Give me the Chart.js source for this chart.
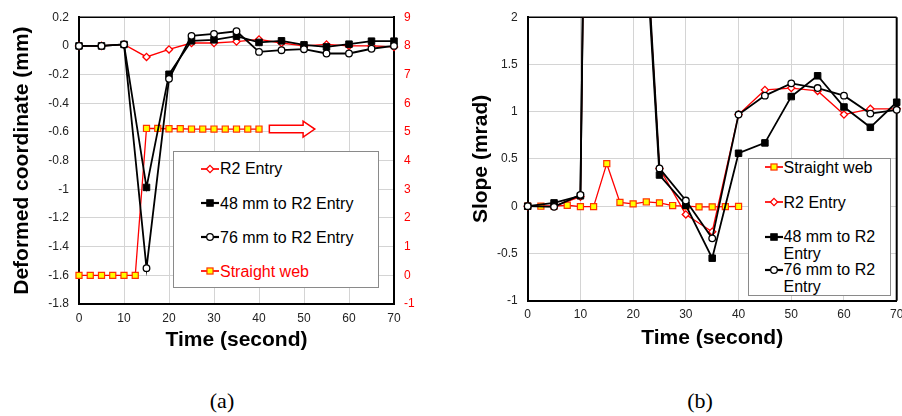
<!DOCTYPE html>
<html><head><meta charset="utf-8">
<script src="https://cdn.jsdelivr.net/npm/chart.js@4.4.1/dist/chart.umd.min.js"></script>
<style>
html,body{margin:0;padding:0;background:#fff;overflow:hidden;width:902px;height:416px;}
#wrap{position:relative;width:902px;height:416px;overflow:hidden;}
canvas{position:absolute;top:0;}
#ca{left:0;}
#cb{left:450px;}
.legend{position:absolute;background:#fff;border:1px solid #8a8a8a;font-family:'Liberation Sans',Arial,sans-serif;font-size:16px;color:#000;box-sizing:border-box;}
.row{position:absolute;white-space:nowrap;line-height:17.3px;}
.sym{position:absolute;}
.lab{position:absolute;font-family:'Liberation Serif','Times New Roman',serif;font-size:22px;line-height:24px;transform:translate(-50%,-50%);}
</style></head>
<body><div id="wrap">
<canvas id="ca" width="450" height="360"></canvas>
<canvas id="cb" width="462" height="360"></canvas>
<div class="legend" id="legA" style="left:173px;top:151px;width:206px;height:137px;"></div>
<div class="legend" id="legB" style="left:748px;top:158px;width:143px;height:138px;"></div>
<div class="lab" style="left:222px;top:401px;">(a)</div>
<div class="lab" style="left:700px;top:401px;">(b)</div>
</div>
<script>
// ---------- data: panel (a) ----------
const timeA = [0,5,10,15,20,25,30,35,40,45,50,55,60,65,70];
const r2EntryA = [0,0,0.01,-0.077,-0.025,0.02,0.02,0.03,0.045,0.02,0.0,0.01,0.0,0.0,-0.007];
const mm48A = [0,0,0.01,-0.987,-0.198,0.035,0.042,0.068,0.024,0.035,0.007,-0.007,0.012,0.033,0.033];
const mm76A = [0,0,0.01,-1.55,-0.23,0.07,0.084,0.102,-0.042,-0.03,-0.023,-0.053,-0.053,-0.02,0];
const webTimeA = [0,2.5,5,7.5,10,12.5,15,17.5,20,22.5,25,27.5,30,32.5,35,37.5,40];
const webA = [0,0,0,0,0,0,5.12,5.12,5.11,5.11,5.1,5.1,5.1,5.1,5.1,5.1,5.1];
// ---------- data: panel (b) ----------
const timeB = [0,5,10,15,20,25,30,35,40,45,50,55,60,65,70];
const r2EntryB = [0,0,0.1,21,5.1,0.4,-0.087,-0.27,0.97,1.23,1.25,1.22,0.97,1.03,1.03];
const mm48B = [0,0.035,0.11,21.5,5.0,0.33,0.01,-0.55,0.56,0.67,1.16,1.38,1.05,0.835,1.10];
const mm76B = [0,-0.007,0.12,22,5.2,0.4,0.06,-0.34,0.97,1.17,1.30,1.25,1.17,0.98,1.02];
const webTimeB = [0,2.5,5,7.5,10,12.5,15,17.5,20,22.5,25,27.5,30,32.5,35,37.5,40];
const webB = [0,0,0,0.01,-0.005,-0.005,0.45,0.04,0.025,0.045,0.035,0.007,0,-0.007,-0.007,-0.005,-0.003];
// ---------- labels ----------
const seriesNames = ['R2 Entry','48 mm to R2 Entry','76 mm to R2 Entry','Straight web'];
const xTitle = 'Time (second)';
const yTitleA = 'Deformed coordinate (mm)';
const yTitleB = 'Slope (mrad)';

const FONT = "'Liberation Sans', Arial, sans-serif";
Chart.defaults.font.family = FONT;
Chart.defaults.color = '#222';

const pts = (xs, ys) => xs.map((x, i) => ({x, y: ys[i]}));

const STY = {
  r2:  {borderColor:'#ff0000', borderWidth:1.3, pointStyle:'rectRot', pointRadius:3.6, pointBackgroundColor:'#fff', pointBorderColor:'#ff0000', pointBorderWidth:1.3},
  m48: {borderColor:'#000', borderWidth:1.8, pointStyle:'rect', pointRadius:4.6, pointBackgroundColor:'#000', pointBorderColor:'#000', pointBorderWidth:1},
  m76: {borderColor:'#000', borderWidth:1.8, pointStyle:'circle', pointRadius:3.3, pointBackgroundColor:'#fff', pointBorderColor:'#000', pointBorderWidth:1.3},
  web: {borderColor:'#ff0000', borderWidth:1.3, pointStyle:'rect', pointRadius:4.3, pointBackgroundColor:'#ffff00', pointBorderColor:'#ff3300', pointBorderWidth:1.2}
};

const frame = {
  id: 'frame',
  beforeDatasetsDraw(chart, args, o) {
    const {ctx, chartArea: a} = chart;
    ctx.save();
    ctx.strokeStyle = '#000';
    ctx.lineWidth = o.top || 1.4;
    ctx.beginPath(); ctx.moveTo(a.left, a.top); ctx.lineTo(a.right, a.top); ctx.stroke();
    if (o.right) {
      ctx.lineWidth = o.right;
      ctx.beginPath(); ctx.moveTo(a.right, a.top); ctx.lineTo(a.right, a.bottom); ctx.stroke();
    }
    ctx.restore();
  }
};

const arrow = {
  id: 'arrow',
  afterDatasetsDraw(chart, args, o) {
    if (!o.from) return;
    const xs = chart.scales.x, ys = chart.scales[o.axis];
    const x0 = xs.getPixelForValue(o.from), x1 = xs.getPixelForValue(o.to), xh = xs.getPixelForValue(o.head);
    const yc = ys.getPixelForValue(o.level);
    const hs = o.shaft, hh = o.headHalf;
    const ctx = chart.ctx;
    ctx.save();
    ctx.beginPath();
    ctx.moveTo(x0, yc - hs); ctx.lineTo(xh, yc - hs); ctx.lineTo(xh, yc - hh); ctx.lineTo(x1, yc);
    ctx.lineTo(xh, yc + hh); ctx.lineTo(xh, yc + hs); ctx.lineTo(x0, yc + hs); ctx.closePath();
    ctx.fillStyle = '#fff'; ctx.fill();
    ctx.strokeStyle = '#ff0000'; ctx.lineWidth = 1.5; ctx.stroke();
    ctx.restore();
  }
};

const fmt1 = v => String(Math.round(v * 10) / 10);
const gridCol = '#d4d4d4';
const titleFont = {size: 21, weight: 'bold', family: FONT};
const tickFont = {size: 12, family: FONT};

// ---------- chart (a) ----------
new Chart(document.getElementById('ca'), {
  type: 'line',
  data: {
    datasets: [
      Object.assign({label: seriesNames[2], data: pts(timeA, mm76A), yAxisID: 'y'}, STY.m76),
      Object.assign({label: seriesNames[1], data: pts(timeA, mm48A), yAxisID: 'y'}, STY.m48),
      Object.assign({label: seriesNames[0], data: pts(timeA, r2EntryA), yAxisID: 'y'}, STY.r2),
      Object.assign({label: seriesNames[3], data: pts(webTimeA, webA), yAxisID: 'y2'}, STY.web)
    ]
  },
  options: {
    responsive: false, animation: false,
    clip: 8,
    layout: {padding: {top: 17, left: 0, right: 0, bottom: 0}},
    plugins: {legend: {display: false}, tooltip: {enabled: false},
      frame: {top: 1.4},
      arrow: {from: 42.3, to: 52.4, head: 49.8, level: 5.1, axis: 'y2', shaft: 3.8, headHalf: 8}},
    elements: {line: {tension: 0}},
    scales: {
      x: {type: 'linear', min: 0, max: 70,
        ticks: {stepSize: 10, font: tickFont, padding: 7, maxRotation: 0},
        grid: {color: gridCol, drawTicks: false},
        border: {color: '#000', width: 2},
        title: {display: true, text: xTitle, font: titleFont, color: '#000', padding: {top: 0, bottom: 7.4}},
        afterFit: s => { s.height = 56; }
      },
      y: {type: 'linear', position: 'left', min: -1.8, max: 0.2,
        ticks: {stepSize: 0.2, font: tickFont, padding: 10, callback: fmt1},
        grid: {color: gridCol, drawTicks: false},
        border: {color: '#000', width: 2},
        title: {display: true, text: yTitleA, font: titleFont, color: '#000', padding: {top: 10, bottom: 0}},
        afterFit: s => { s.width = 79; }
      },
      y2: {type: 'linear', position: 'right', min: -1, max: 9,
        ticks: {stepSize: 1, font: tickFont, padding: 10, color: '#ff0000'},
        grid: {display: false, drawTicks: false},
        border: {color: '#000', width: 2},
        afterFit: s => { s.width = 56; }
      }
    }
  },
  plugins: [frame, arrow]
});

// ---------- chart (b) ----------
new Chart(document.getElementById('cb'), {
  type: 'line',
  data: {
    datasets: [
      Object.assign({label: seriesNames[2], data: pts(timeB, mm76B)}, STY.m76),
      Object.assign({label: seriesNames[1], data: pts(timeB, mm48B)}, STY.m48),
      Object.assign({label: seriesNames[0], data: pts(timeB, r2EntryB)}, STY.r2),
      Object.assign({label: seriesNames[3], data: pts(webTimeB, webB)}, STY.web)
    ]
  },
  options: {
    responsive: false, animation: false,
    clip: {left: 8, right: 8, top: 0, bottom: 8},
    layout: {padding: {top: 15, left: 0, right: 15.3, bottom: 0}},
    plugins: {legend: {display: false}, tooltip: {enabled: false},
      frame: {top: 1.4, right: 2}, arrow: {}},
    elements: {line: {tension: 0}},
    scales: {
      x: {type: 'linear', min: 0, max: 70,
        ticks: {stepSize: 10, font: tickFont, padding: 7, maxRotation: 0},
        grid: {color: gridCol, drawTicks: false},
        border: {color: '#000', width: 2},
        title: {display: true, text: xTitle, font: titleFont, color: '#000', padding: {top: 0, bottom: 9.4}},
        afterFit: s => { s.height = 59.3; }
      },
      y: {type: 'linear', position: 'left', min: -1, max: 2,
        ticks: {stepSize: 0.5, font: tickFont, padding: 10, callback: fmt1},
        grid: {color: gridCol, drawTicks: false},
        border: {color: '#000', width: 2},
        title: {display: true, text: yTitleB, font: titleFont, color: '#000', padding: {top: 19, bottom: 0}},
        afterFit: s => { s.width = 77.7; }
      }
    }
  },
  plugins: [frame, arrow]
});

// ---------- HTML legends ----------
function symbol(st) {
  const w = 18, h = 14, cx = 9, cy = 7;
  let m = '';
  const fill = st.pointBackgroundColor, stroke = st.pointBorderColor, bw = st.pointBorderWidth;
  if (st.pointStyle === 'rect') {
    const s = st.pointRadius * Math.SQRT1_2;
    m = `<rect x="${cx - s}" y="${cy - s}" width="${2 * s}" height="${2 * s}" fill="${fill}" stroke="${stroke}" stroke-width="${bw}"/>`;
  } else if (st.pointStyle === 'circle') {
    m = `<circle cx="${cx}" cy="${cy}" r="${st.pointRadius}" fill="${fill}" stroke="${stroke}" stroke-width="${bw}"/>`;
  } else {
    const r = st.pointRadius;
    m = `<polygon points="${cx},${cy - r} ${cx + r},${cy} ${cx},${cy + r} ${cx - r},${cy}" fill="${fill}" stroke="${stroke}" stroke-width="${bw}"/>`;
  }
  return `<svg width="${w}" height="${h}" viewBox="0 0 ${w} ${h}"><line x1="0" y1="${cy}" x2="${w}" y2="${cy}" stroke="${st.borderColor}" stroke-width="${st.borderWidth + 0.4}"/>${m}</svg>`;
}
function buildLegend(el, items, symLeft, textLeft) {
  items.forEach(it => {
    const sym = document.createElement('div');
    sym.className = 'sym';
    sym.style.left = symLeft + 'px';
    sym.style.top = (it.c - 7) + 'px';
    sym.innerHTML = symbol(it.st);
    el.appendChild(sym);
    const row = document.createElement('div');
    row.className = 'row';
    row.style.left = textLeft + 'px';
    row.style.top = (it.c - 8.65) + 'px';
    row.style.color = it.color || '#000';
    row.innerHTML = it.html;
    el.appendChild(row);
  });
}
buildLegend(document.getElementById('legA'), [
  {st: STY.r2, html: seriesNames[0], c: 16.8},
  {st: STY.m48, html: seriesNames[1], c: 51.2},
  {st: STY.m76, html: seriesNames[2], c: 85.2},
  {st: STY.web, html: seriesNames[3], c: 119.2, color: '#ff0000'}
], 27, 46);
buildLegend(document.getElementById('legB'), [
  {st: STY.web, html: seriesNames[3], c: 8.2},
  {st: STY.r2, html: seriesNames[0], c: 43.2},
  {st: STY.m48, html: '48 mm to R2<br>Entry', c: 77.5},
  {st: STY.m76, html: '76 mm to R2<br>Entry', c: 110.8}
], 15.5, 34.5);
</script>
</body></html>
